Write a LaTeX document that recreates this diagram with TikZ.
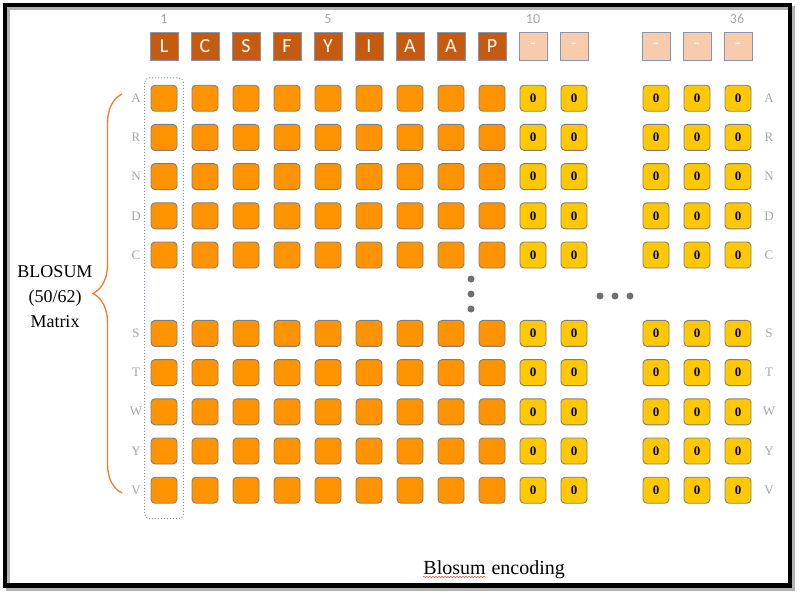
\documentclass[tikz,border=0pt]{standalone}
\usepackage{fontspec}
\setmainfont{Liberation Serif}
\newfontfamily\calibri{Carlito}
\usetikzlibrary{decorations.pathreplacing, decorations.pathmorphing, positioning}
\definecolor{corange}{HTML}{FF9300}
\definecolor{crust}{HTML}{C55A11}
\definecolor{cpeach}{HTML}{F8CBAD}
\definecolor{cyellow}{HTML}{FFC800}
\definecolor{cgrey}{HTML}{7F7F7F}
\definecolor{clabel}{HTML}{A6A6A6}
\definecolor{cslate}{HTML}{8497B0}
\definecolor{cbrace}{HTML}{ED7D31}
\definecolor{cdots}{HTML}{707070}
\tikzset{
  every picture/.style={line width=0.9pt},
  residue/.style={draw=cslate, fill=#1, minimum size=28pt, inner sep=0pt, text=white, font=\calibri\fontsize{20}{20}\selectfont},
  residue/.default=crust,
  gridcell/.style={draw=cgrey, fill=#1, rounded corners=4pt, minimum size=26pt, inner sep=0pt, font=\bfseries\fontsize{13}{13}\selectfont},
  gridcell/.default=corange,
  rowlabel/.style={text=clabel, font=\fontsize{13}{13}\selectfont},
  colindex/.style={text=clabel, font=\calibri\fontsize{14}{14}\selectfont},
  captiontext/.style={font=\fontsize{18}{25}\selectfont, align=center, inner sep=0pt},
  ellipsisdot/.style={circle, fill=cdots, minimum size=7pt, inner sep=0pt},
}
\begin{document}
\begin{tikzpicture}[x=1pt, y=-1pt]
  \useasboundingbox (0,0) rectangle (805,598);
  % frame with shadow
  \draw[black!30, line width=4pt] (8,8) rectangle (793,589);
  \draw[line width=4.5pt] (5,5) rectangle (790,585.5);
  % column numbers
  \node[colindex] (num-1) at (164,19) {1};
  \node[colindex] (num-5) at (328,19) {5};
  \node[colindex] (num-10) at (533,19) {10};
  \node[colindex] (num-36) at (737,19) {36};
  % peptide
  \foreach \aa [count=\c] in {L,C,S,F,Y,I,A,A,P}
    \node[residue] (top-\c) at (123+41*\c,46) {\aa};
  \foreach \c in {10,11,13,14,15}
    \node[residue=cpeach] (top-\c) at (123+41*\c,46) {-};
  % matrix rows
  \foreach \aa/\r in {A/1,R/2,N/3,D/4,C/5,S/7,T/8,W/9,Y/10,V/11} {
    \node[rowlabel] (left-\aa) at (136,59+39.2*\r) {\aa};
    \node[rowlabel] (right-\aa) at (769,59+39.2*\r) {\aa};
    \foreach \c in {1,...,9}
      \node[gridcell] (cell-\aa-\c) at (123+41*\c,59+39.2*\r) {};
    \foreach \c in {10,11,13,14,15}
      \node[gridcell=cyellow] (cell-\aa-\c) at (123+41*\c,59+39.2*\r) {0};
  }
  % first column
  \draw[cslate, dotted, line width=1pt, rounded corners=5pt]
    ([shift={(-6,-7)}]cell-A-1.north west) rectangle ([shift={(6,15)}]cell-V-1.south east);
  % skipped rows and columns
  \foreach \y [count=\i] in {279,294,309}
    \node[ellipsisdot] (vdot-\i) at (471,\y) {};
  \foreach \x [count=\i] in {600,615,630}
    \node[ellipsisdot] (hdot-\i) at (\x,296) {};
  % brace and its label
  \draw[cbrace, line width=1.3pt, decorate, decoration={brace, amplitude=29pt}]
    (122,493) -- (122,94);
  \node[captiontext] (blosum) at (55,297) {BLOSUM\\(50/62)\\Matrix};
  % caption
  \node[captiontext, font=\fontsize{20}{24}\selectfont, anchor=base west] (cap-a) at (423,574) {Blosum};
  \node[captiontext, font=\fontsize{20}{24}\selectfont, anchor=base west] (cap-b) at (cap-a.base east) {\ encoding};
  \draw[red!80, line width=0.5pt, decorate, decoration={snake, amplitude=0.6pt, segment length=3pt}]
    ([yshift=-3pt]cap-a.base west) -- ([yshift=-3pt]cap-a.base east);
\end{tikzpicture}
\end{document}
